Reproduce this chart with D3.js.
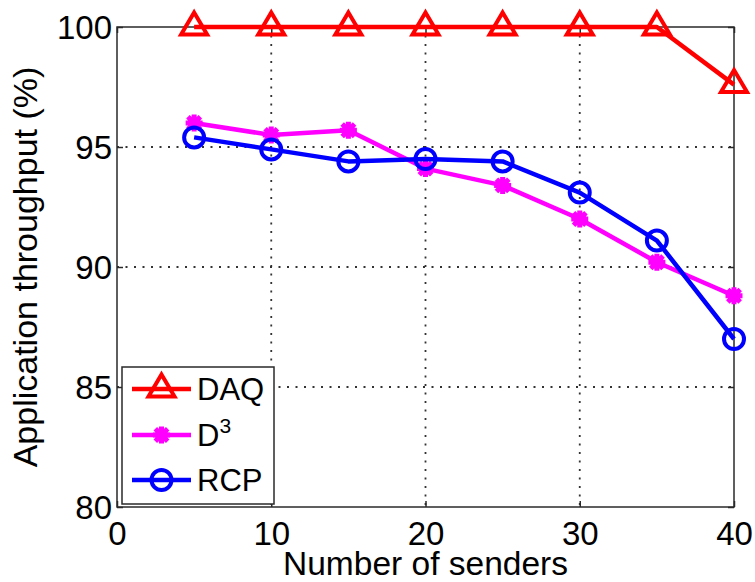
<!DOCTYPE html>
<html>
<head>
<meta charset="utf-8">
<script src="https://cdn.jsdelivr.net/npm/d3@7"></script>
<style>
  html, body { margin: 0; padding: 0; background: #fff; }
  svg { display: block; }
  text { font-family: "Liberation Sans", Arial, Helvetica, sans-serif; fill: #000; }
</style>
</head>
<body>
<svg id="chart" width="755" height="582"></svg>
<script>
// Number of senders on the x axis
const senders = [5, 10, 15, 20, 25, 30, 35, 40];

// Application throughput (%) per scheme
const daq = [100, 100, 100, 100, 100, 100, 100, 97.6];
const d3s = [96.0, 95.5, 95.7, 94.1, 93.4, 92.0, 90.2, 88.8];
const rcp = [95.4, 94.9, 94.4, 94.5, 94.4, 93.1, 91.1, 87.0];

// Axis ticks
const xTicks = [0, 10, 20, 30, 40];
const yTicks = [80, 85, 90, 95, 100];

const seriesNames = ["DAQ", "D3", "RCP"];
const seriesColors = ["#ff0000", "#ff00ff", "#0000ff"];
const seriesMarkers = ["triangle", "star", "circle"];

const svg = d3.select("#chart");
const plotL = 117, plotR = 734, plotT = 27, plotB = 507;

const x = d3.scaleLinear().domain([0, 40]).range([plotL, plotR]);
const y = d3.scaleLinear().domain([80, 100]).range([plotB, plotT]);

// Dotted grid
const grid = svg.append("g")
  .attr("stroke", "#333")
  .attr("stroke-width", 1.8)
  .attr("stroke-dasharray", "2,6.5");
grid.selectAll("line.gx").data(xTicks.slice(1, -1)).enter().append("line")
  .attr("x1", d => x(d)).attr("x2", d => x(d))
  .attr("y1", plotT).attr("y2", plotB);
grid.selectAll("line.gy").data(yTicks.slice(1, -1)).enter().append("line")
  .attr("x1", plotL).attr("x2", plotR)
  .attr("y1", d => y(d)).attr("y2", d => y(d));

// Axes with inward ticks, mirrored on top and right
const tickLen = 6;
const axisColor = "#2a2a2a";
svg.append("g").attr("transform", `translate(0,${plotB})`)
  .call(d3.axisBottom(x).tickValues(xTicks).tickSize(-tickLen).tickFormat(d3.format("d")))
  .call(g => {
    g.select(".domain").remove();
    g.selectAll("line").attr("stroke", axisColor).attr("stroke-width", 1.5);
    g.selectAll("text").attr("font-size", 33).attr("fill", "#000")
      .attr("font-family", "Liberation Sans, Arial, sans-serif")
      .attr("dy", null).attr("y", 38);
  });
svg.append("g").attr("transform", `translate(${plotL},0)`)
  .call(d3.axisLeft(y).tickValues(yTicks).tickSize(-tickLen).tickFormat(d3.format("d")))
  .call(g => {
    g.select(".domain").remove();
    g.selectAll("line").attr("stroke", axisColor).attr("stroke-width", 1.5);
    g.selectAll("text").attr("font-size", 33).attr("fill", "#000")
      .attr("font-family", "Liberation Sans, Arial, sans-serif")
      .attr("x", -5).attr("dy", "0.36em");
  });
svg.append("g").attr("transform", `translate(0,${plotT})`)
  .call(d3.axisTop(x).tickValues(xTicks).tickSize(-tickLen).tickFormat(""))
  .call(g => { g.select(".domain").remove(); g.selectAll("line").attr("stroke", axisColor).attr("stroke-width", 1.5); });
svg.append("g").attr("transform", `translate(${plotR},0)`)
  .call(d3.axisRight(y).tickValues(yTicks).tickSize(-tickLen).tickFormat(""))
  .call(g => { g.select(".domain").remove(); g.selectAll("line").attr("stroke", axisColor).attr("stroke-width", 1.5); });

// Plot box
svg.append("rect")
  .attr("x", plotL).attr("y", plotT)
  .attr("width", plotR - plotL).attr("height", plotB - plotT)
  .attr("fill", "none").attr("stroke", axisColor).attr("stroke-width", 1.5);

// Marker shapes
function markerPath(type) {
  if (type === "triangle") {
    return "M0,-14.5 L13,7.5 L-13,7.5 Z";
  }
  const a = 8.5, b = 6.2;
  return `M${-a},0 L${a},0 M0,${-a} L0,${a} M${-b},${-b} L${b},${b} M${-b},${b} L${b},${-b}`;
}
function drawMarker(g, type, color) {
  if (type === "circle") {
    g.append("circle").attr("r", 10).attr("fill", "none")
      .attr("stroke", color).attr("stroke-width", 4);
  } else {
    g.append("path").attr("d", markerPath(type))
      .attr("fill", "none").attr("stroke", color)
      .attr("stroke-width", type === "star" ? 5 : 4)
      .attr("stroke-linejoin", "miter");
  }
}

// Series lines and markers
const allSeries = [daq, d3s, rcp];
const line = d3.line().x((d, i) => x(senders[i])).y(d => y(d));
allSeries.forEach((vals, k) => {
  const g = svg.append("g");
  g.append("path").datum(vals).attr("d", line)
    .attr("fill", "none").attr("stroke", seriesColors[k])
    .attr("stroke-width", 4.5).attr("stroke-linejoin", "round");
  vals.forEach((v, i) => {
    const m = g.append("g").attr("transform", `translate(${x(senders[i])},${y(v)})`);
    drawMarker(m, seriesMarkers[k], seriesColors[k]);
  });
});

// Legend
const legend = svg.append("g");
legend.append("rect")
  .attr("x", 122).attr("y", 367).attr("width", 152).attr("height", 137)
  .attr("fill", "#fff").attr("stroke", axisColor).attr("stroke-width", 1.5);
const rowY = [389, 435, 480];
seriesNames.forEach((name, k) => {
  const row = legend.append("g").attr("transform", `translate(0,${rowY[k]})`);
  row.append("line").attr("x1", 132).attr("x2", 191).attr("y1", 0).attr("y2", 0)
    .attr("stroke", seriesColors[k]).attr("stroke-width", 4.5);
  const m = row.append("g").attr("transform", "translate(161.5,0)");
  drawMarker(m, seriesMarkers[k], seriesColors[k]);
  const t = row.append("text").attr("x", 197).attr("y", 11).attr("font-size", 31);
  if (name === "D3") {
    t.append("tspan").text("D");
    t.append("tspan").attr("font-size", 21).attr("dy", -13).text("3");
  } else {
    t.text(name);
  }
});

// Axis titles
svg.append("text")
  .attr("x", (plotL + plotR) / 2).attr("y", 575)
  .attr("text-anchor", "middle").attr("font-size", 33.5)
  .text("Number of senders");
svg.append("text")
  .attr("transform", `translate(37,${(plotT + plotB) / 2}) rotate(-90)`)
  .attr("text-anchor", "middle").attr("font-size", 34)
  .text("Application throughput (%)");
</script>
</body>
</html>
